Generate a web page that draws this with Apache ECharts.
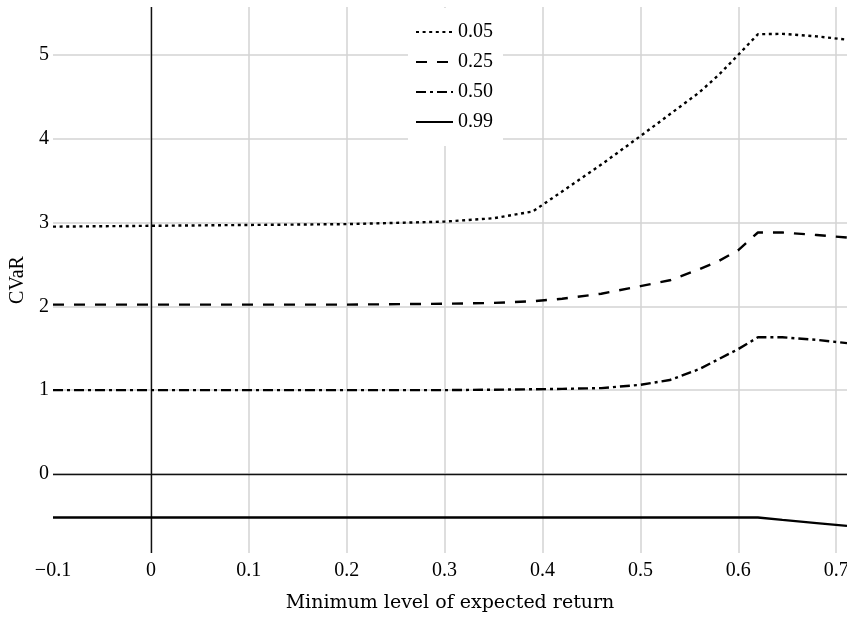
<!DOCTYPE html>
<html>
<head>
<meta charset="utf-8">
<script src="https://cdn.jsdelivr.net/npm/echarts@6/dist/echarts.min.js"></script>
<style>html,body{margin:0;padding:0;background:#fff;}#c{width:847px;height:617px;}</style>
</head>
<body>
<div id="c"></div>
<script>
// Data
const xValues = [-0.1, 0, 0.1, 0.2, 0.3, 0.35, 0.39, 0.42, 0.46, 0.5, 0.53, 0.56, 0.58, 0.6, 0.62, 0.645, 0.68, 0.711];
const seriesNames = ['0.05', '0.25', '0.50', '0.99'];
const cvar005 = [2.95, 2.96, 2.97, 2.98, 3.01, 3.05, 3.13, 3.37, 3.69, 4.03, 4.29, 4.55, 4.76, 5.0, 5.245, 5.25, 5.22, 5.18];
const cvar025 = [2.02, 2.02, 2.02, 2.02, 2.03, 2.04, 2.06, 2.09, 2.15, 2.24, 2.31, 2.44, 2.54, 2.67, 2.88, 2.88, 2.85, 2.82];
const cvar050 = [1.0, 1.0, 1.0, 1.0, 1.0, 1.005, 1.01, 1.015, 1.024, 1.063, 1.12, 1.25, 1.37, 1.49, 1.63, 1.63, 1.6, 1.56];
const cvar099 = [-0.52, -0.52, -0.52, -0.52, -0.52, -0.52, -0.52, -0.52, -0.52, -0.52, -0.52, -0.52, -0.52, -0.52, -0.52, -0.548, -0.586, -0.62];
const xTitle = 'Minimum level of expected return';
const yTitle = 'CVaR';

const FONT = 'Liberation Serif';
const dashes = [[3, 3.6], [11, 10], [10, 4, 3, 4], null];
const allY = [cvar005, cvar025, cvar050, cvar099];

const chart = echarts.init(document.getElementById('c'), null, {renderer: 'canvas'});
const series = seriesNames.map((name, i) => ({
  name: name,
  type: 'line',
  showSymbol: false,
  symbol: 'none',
  smooth: false,
  data: xValues.map((x, j) => [x, allY[i][j]]),
  lineStyle: {color: '#000', width: 2.4, type: dashes[i] || 'solid', cap: 'butt'},
  itemStyle: {color: '#000'},
  z: 3
}));
series[0].markLine = {
  silent: true,
  symbol: ['none', 'none'],
  label: {show: false},
  animation: false,
  lineStyle: {color: '#111', type: 'solid', width: 1.4},
  data: [{xAxis: 0}, {yAxis: 0}],
  z: 2
};

chart.setOption({
  animation: false,
  backgroundColor: '#fff',
  grid: {left: 53, right: 0, top: 7, bottom: 64, outerBoundsMode: 'none'},
  legend: {
    orient: 'vertical',
    left: 408,
    top: 8,
    itemWidth: 37,
    itemHeight: 14,
    itemGap: 10,
    padding: [14, 10, 14, 7],
    backgroundColor: '#fff',
    data: seriesNames,
    itemStyle: {opacity: 0},
    textStyle: {fontFamily: FONT, fontSize: 20, color: '#000', lineHeight: 20}
  },
  xAxis: {
    type: 'value',
    min: -0.1,
    max: 0.711,
    interval: 0.1,
    name: xTitle,
    nameLocation: 'middle',
    nameGap: 41,
    nameTextStyle: {fontFamily: 'DejaVu Serif', fontSize: 19, color: '#000'},
    axisLine: {show: false},
    axisTick: {show: false},
    axisLabel: {
      fontFamily: FONT, fontSize: 20, color: '#000', margin: 8,
      showMaxLabel: false,
      formatter: v => (Math.round(v * 10) / 10).toString().replace('-', '\u2212')
    },
    splitLine: {show: true, showMinLine: false, showMaxLine: false, lineStyle: {color: '#d3d3d3', width: 1.5}}
  },
  yAxis: {
    type: 'value',
    min: -0.943,
    max: 5.57,
    splitNumber: 5,
    name: yTitle,
    nameLocation: 'middle',
    nameGap: 22,
    nameTextStyle: {fontFamily: FONT, fontSize: 20, color: '#000'},
    axisLine: {show: false},
    axisTick: {show: false},
    axisLabel: {
      fontFamily: FONT, fontSize: 20, color: '#000', margin: 4,
      showMinLabel: false, showMaxLabel: false,
      formatter: v => Math.round(v).toString().replace('-', '\u2212')
    },
    splitLine: {show: true, showMinLine: false, showMaxLine: false, lineStyle: {color: '#d3d3d3', width: 1.5}}
  },
  series: series
});
</script>
</body>
</html>
